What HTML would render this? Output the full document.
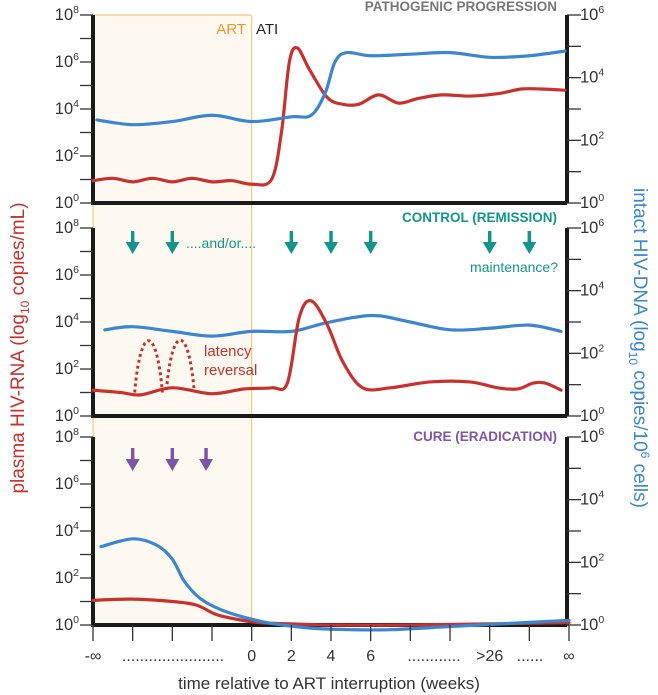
<!DOCTYPE html>
<html><head><meta charset="utf-8"><style>
body{margin:0;background:#fff;}
svg{display:block;font-family:"Liberation Sans",sans-serif;}
</style></head><body>
<svg id="chart" width="658" height="695" viewBox="0 0 658 695"></svg>
<script>
// ---- data ----
const xTickLabels = ["-∞","","","","0","2","4","6","","","","",""];
const xDotLabels = [".......................","............",">26","......","∞"];
const leftTicks = ["8","6","4","2","0"];
const rightTicks = ["6","4","2","0"];
const p1RedX = [0,0.5,1,1.5,2,2.5,3,3.5,4,4.5,4.75,4.95,5.15,5.45,5.9,6.3,6.7,7.2,7.7,8.2,8.8,9.5,10.2,10.8,11.3,11.9];
const p1RedY = [0.95,1.05,0.9,1.05,0.9,1.05,0.9,0.95,0.8,1.0,3.0,6.0,6.6,5.7,4.5,4.2,4.2,4.6,4.25,4.45,4.6,4.55,4.65,4.85,4.85,4.8];
const p1BlueX = [0.1,1,2,3,4,5,5.5,5.85,6.1,6.4,7,8,9,10,11,11.9];
const p1BlueY = [2.65,2.5,2.6,2.8,2.6,2.75,2.8,3.5,4.5,4.8,4.7,4.75,4.8,4.65,4.7,4.85];
const p2RedX = [0,0.7,1.2,2,3,3.8,4.5,4.9,5.2,5.5,5.9,6.3,6.8,7.5,8.5,9.5,10.2,10.7,11.1,11.4,11.8];
const p2RedY = [1.1,1.0,0.9,1.2,0.95,1.15,1.2,1.4,4.2,4.9,3.9,2.3,1.2,1.2,1.45,1.45,1.2,1.15,1.4,1.4,1.1];
const p2BlueX = [0.3,1,2,3,4,5,5.8,6.6,7.2,8,9,10,11,11.8];
const p2BlueY = [2.75,2.85,2.7,2.55,2.7,2.7,2.95,3.15,3.2,3.0,2.75,2.8,2.9,2.7];
const p3RedX = [0,1,2,2.6,3.1,3.6,4.2,5,6,8,10,12];
const p3RedY = [1.05,1.1,1.0,0.85,0.45,0.25,0.1,0.05,0,0,0.05,0.1];
const p3BlueX = [0.2,1,1.6,2,2.3,2.7,3.2,3.8,4.5,5.5,6.5,7.5,9,10.5,12];
const p3BlueY = [2.5,2.75,2.55,2.1,1.4,0.85,0.5,0.25,0.05,-0.1,-0.15,-0.15,-0.05,0.05,0.15];
const arcX = [1.05,1.45,1.85,2.25];
const arcY = [1.0,3.0,1.1,3.0];
const tealArrows = [1,2,5,6,7,10,11];
const purpleArrows = [1,2,2.85];

const svg=document.getElementById('chart');
const NS='http://www.w3.org/2000/svg';
function el(t,a,p){const e=document.createElementNS(NS,t);for(const k in a)e.setAttribute(k,a[k]);(p||svg).appendChild(e);return e;}
const X0=93,X1=569;
const xs=i=>X0+i*(X1-X0)/12;
const panels=[{top:15,bot:203},{top:228,bot:416},{top:437,bot:625}];
const yl=(p,v)=>p.bot-v*(p.bot-p.top)/8;
const yr=(p,v)=>p.bot-v*(p.bot-p.top)/6;
function smooth(pts){let d='M'+pts[0][0]+','+pts[0][1];for(let i=0;i<pts.length-1;i++){const p0=pts[i-1]||pts[i],p1=pts[i],p2=pts[i+1],p3=pts[i+2]||p2;d+=` C${p1[0]+(p2[0]-p0[0])/6},${p1[1]+(p2[1]-p0[1])/6} ${p2[0]-(p3[0]-p1[0])/6},${p2[1]-(p3[1]-p1[1])/6} ${p2[0]},${p2[1]}`;}return d;}

const art=el('rect',{x:X0,y:15,width:xs(4)-X0,height:610,fill:'#fdf9f0',stroke:'#f5c87a','stroke-width':1.2,rx:2});


let t=el('text',{x:246,y:34,'font-size':15,fill:'#f0952c','text-anchor':'end'});t.textContent='ART';

t=el('text',{x:256,y:34,'font-size':15,fill:'#222'});t.textContent='ATI';


const titles=[['PATHOGENIC PROGRESSION','#777'],['CONTROL (REMISSION)','#14958a'],['CURE (ERADICATION)','#7d55a6']];
const titleY=[11,222,441];
panels.forEach((p,i)=>{
  const g=el('g',{});
  
  
  el('path',{d:`M${X0},${p.top} V${p.bot} H${X1-2} M${X1-2},${p.top} V${p.bot}`,stroke:'#1a1a1a','stroke-width':4,fill:'none'},g);
  for(let k=0;k<=8;k++){const y=yl(p,k);el('line',{x1:X0-13,x2:X0,y1:y,y2:y,stroke:'#333','stroke-width':1.3},g);}
  leftTicks.forEach((s,k)=>{const y=yl(p,8-2*k);const tx=el('text',{x:X0-14,y:y+5,'font-size':16.5,fill:'#333','text-anchor':'end'},g);tx.innerHTML='10<tspan dy="-7" font-size="10.5">'+s+'</tspan>';});
  for(let k=0;k<=6;k++){const y=yr(p,k);el('line',{x1:X1-2,x2:X1+12,y1:y,y2:y,stroke:'#333','stroke-width':1.3},g);}
  rightTicks.forEach((s,k)=>{const y=yr(p,6-2*k);const tx=el('text',{x:X1+11,y:y+5,'font-size':16.5,fill:'#333'},g);tx.innerHTML='10<tspan dy="-7" font-size="10.5">'+s+'</tspan>';});
  const tt=el('text',{x:557,y:titleY[i],'font-size':13.5,'font-weight':'bold',fill:titles[i][1],'text-anchor':'end'},g);tt.textContent=titles[i][0];
});
function series(xa,ya,p,right,color,name,extra){
  const pts=xa.map((x,i)=>[xs(x),right?yr(p,ya[i]):yl(p,ya[i])]);
  const a=Object.assign({d:smooth(pts),stroke:color,'stroke-width':3.2,fill:'none','stroke-linecap':'round'},extra||{});
  const e=el('path',a);
  
  
}
const RED='#c8322e',BLUE='#3b86cf';
series(p1RedX,p1RedY,panels[0],false,RED,'p1-hiv-rna-line');
series(p1BlueX,p1BlueY,panels[0],true,BLUE,'p1-hiv-dna-line');
series(p2BlueX,p2BlueY,panels[1],true,BLUE,'p2-hiv-dna-line');
series(p2RedX,p2RedY,panels[1],false,RED,'p2-hiv-rna-line');
for(let j=0;j<2;j++){
  const x0=xs(arcX[j*2]),x1=xs(arcX[j*2+1]+0.3),yb=yl(panels[1],arcY[j*2]),yt=yl(panels[1],arcY[j*2+1]);
  const e=el('path',{d:`M${x0},${yb} C${x0+6},${yt-22} ${x1-6},${yt-22} ${x1},${yb}`,stroke:RED,'stroke-width':3,fill:'none','stroke-dasharray':'3 3'});
  
  
}
t=el('text',{x:204,y:356,'font-size':15,fill:RED});t.textContent='latency';

t=el('text',{x:204,y:375,'font-size':15,fill:RED});t.textContent='reversal';

series(p3RedX,p3RedY,panels[2],false,RED,'p3-hiv-rna-line');
series(p3BlueX,p3BlueY,panels[2],true,BLUE,'p3-hiv-dna-line');

function arrow(x,y,c,name){const g=el('g',{});
  
  el('line',{x1:x,x2:x,y1:y,y2:y+15,stroke:c,'stroke-width':3.5},g);
  el('path',{d:`M${x-7},${y+11} L${x+7},${y+11} L${x},${y+23} Z`,fill:c},g);}
tealArrows.forEach(i=>arrow(xs(i),231,'#14958a','treatment-arrow'));
purpleArrows.forEach(i=>arrow(xs(i),448,'#7d55a6','cure-arrow'));
t=el('text',{x:186,y:248,'font-size':14,fill:'#14958a'});t.textContent='....and/or....';

t=el('text',{x:558,y:272,'font-size':14,fill:'#14958a','text-anchor':'end'});t.textContent='maintenance?';


for(let i=0;i<=12;i++){const e=el('line',{x1:xs(i),x2:xs(i),y1:625,y2:641,stroke:'#333','stroke-width':1.3});
  }
xTickLabels.forEach((s,i)=>{if(!s)return;const e=el('text',{x:xs(i),y:661,'font-size':16,fill:'#333','text-anchor':'middle'});e.textContent=s;
  });
const dotPos=[[173,'middle'],[434,'middle'],[xs(10),'middle'],[530,'middle'],[xs(12),'middle']];
xDotLabels.forEach((s,i)=>{const e=el('text',{x:dotPos[i][0],y:661,'font-size':16,fill:'#333','text-anchor':dotPos[i][1]});e.textContent=s;
  });
t=el('text',{x:329,y:689,'font-size':17,fill:'#333','text-anchor':'middle'});t.textContent='time relative to ART interruption (weeks)';

t=el('text',{x:0,y:0,'font-size':19,fill:RED,'text-anchor':'middle',transform:'translate(24,348) rotate(-90)'});
t.innerHTML='plasma HIV-RNA (log<tspan dy="5" font-size="12">10</tspan><tspan dy="-5"> copies/mL)</tspan>';

t=el('text',{x:0,y:0,'font-size':19,fill:BLUE,'text-anchor':'middle',transform:'translate(634,348) rotate(90)'});
t.innerHTML='intact HIV-DNA (log<tspan dy="5" font-size="12">10</tspan><tspan dy="-5"> copies/10</tspan><tspan dy="-7" font-size="12">6</tspan><tspan dy="7"> cells)</tspan>';

</script>
</body></html>
